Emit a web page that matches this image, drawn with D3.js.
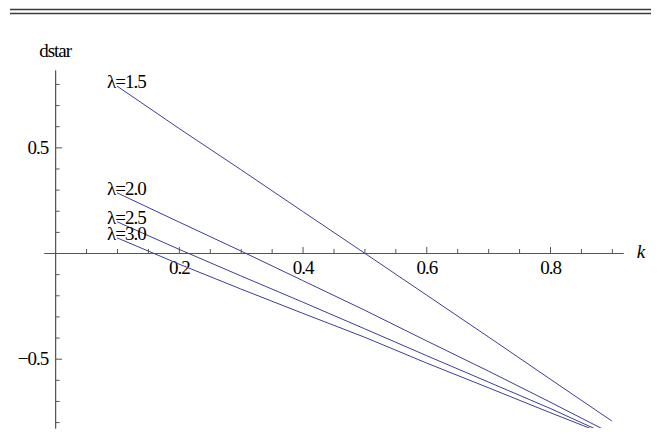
<!DOCTYPE html>
<html>
<head>
<meta charset="utf-8">
<script src="https://cdn.jsdelivr.net/npm/d3@7"></script>
<style>
  html, body { margin: 0; padding: 0; background: #fff; }
  svg text { font-family: "Liberation Serif", "Times New Roman", serif; fill: #000; }
</style>
</head>
<body>
<svg id="chart" width="660" height="445"></svg>
<script>
// ---- data ----
const kValues = [0.1, 0.2, 0.3, 0.4, 0.5, 0.6, 0.7, 0.8, 0.9];
const lambdaLabels = ["λ=1.5", "λ=2.0", "λ=2.5", "λ=3.0"];
const dstarL15 = [0.79, 0.59, 0.395, 0.197, 0.0, -0.198, -0.396, -0.596, -0.795];
const dstarL20 = [0.285, 0.147, 0.01, -0.13, -0.27, -0.415, -0.558, -0.705, -0.855];
const dstarL25 = [0.148, 0.018, -0.108, -0.232, -0.358, -0.485, -0.61, -0.735, -0.868];
const dstarL30 = [0.072, -0.052, -0.17, -0.285, -0.398, -0.52, -0.637, -0.755, -0.87];
const seriesValues = [dstarL15, dstarL20, dstarL25, dstarL30];
const xMajorTicks = [0.2, 0.4, 0.6, 0.8];
const yMajorTicks = [-0.5, 0.5];
const xLabel = "k";
const yLabel = "dstar";

// ---- layout ----
const svg = d3.select("#chart");
const x = d3.scaleLinear().domain([-0.018, 0.918]).range([44, 623]);
const y = d3.scaleLinear().domain([-0.828, 0.866]).range([428, 70]);
const axisColor = "#555";
const lineColor = "#3d3d99";
const fontSize = 19;

// top double rule
[9.5, 13.5].forEach(yy => {
  svg.append("line").attr("x1", 10).attr("x2", 651).attr("y1", yy).attr("y2", yy)
    .attr("stroke", "#3a3a3a").attr("stroke-width", 1.3);
});

// clip
svg.append("defs").append("clipPath").attr("id", "plotclip")
  .append("rect").attr("x", x.range()[0]).attr("y", y.range()[1])
  .attr("width", x.range()[1] - x.range()[0]).attr("height", y.range()[0] - y.range()[1]);

const fmt = d3.format(".1f");
const xMinor = d3.range(0.05, 0.9001, 0.05).map(v => +v.toFixed(2)).filter(v => !xMajorTicks.includes(v));
const yMinor = d3.range(-0.8, 0.8001, 0.1).map(v => +v.toFixed(1)).filter(v => v !== 0 && !yMajorTicks.includes(v));

// X axis
const gx = svg.append("g").attr("transform", `translate(0,${y(0)})`);
gx.call(d3.axisBottom(x).tickValues(xMinor).tickSizeInner(-4).tickSizeOuter(0).tickFormat(""));
gx.call(g => g.selectAll(".tick text").remove());
const gx2 = svg.append("g").attr("transform", `translate(0,${y(0)})`);
gx2.call(d3.axisBottom(x).tickValues(xMajorTicks).tickSizeInner(-6).tickSizeOuter(0).tickFormat(fmt));
[gx, gx2].forEach(g => {
  g.selectAll("path.domain").attr("stroke", axisColor).attr("stroke-width", 1);
  g.selectAll(".tick line").attr("stroke", axisColor).attr("stroke-width", 1);
});
gx2.selectAll(".tick text").attr("y", 21).attr("dy", 0)
  .attr("font-size", fontSize).attr("letter-spacing", "-1px")
  .style("font-family", '"Liberation Serif", serif').attr("fill", "#000");

// Y axis
const gy = svg.append("g").attr("transform", `translate(${x(0)},0)`);
gy.call(d3.axisLeft(y).tickValues(yMinor).tickSizeInner(-4.5).tickSizeOuter(0).tickFormat(""));
gy.call(g => g.selectAll(".tick text").remove());
const gy2 = svg.append("g").attr("transform", `translate(${x(0)},0)`);
gy2.call(d3.axisLeft(y).tickValues(yMajorTicks).tickSizeInner(-7).tickSizeOuter(0).tickFormat(fmt));
[gy, gy2].forEach(g => {
  g.selectAll("path.domain").attr("stroke", axisColor).attr("stroke-width", 1);
  g.selectAll(".tick line").attr("stroke", axisColor).attr("stroke-width", 1);
});
gy2.selectAll(".tick text").attr("x", -7).attr("dy", "0.33em")
  .attr("font-size", fontSize).attr("letter-spacing", "-1px")
  .style("font-family", '"Liberation Serif", serif').attr("fill", "#000");

// axis labels
svg.append("text").attr("x", 641).attr("y", y(0) + 5).attr("text-anchor", "middle")
  .attr("font-size", fontSize).attr("font-style", "italic").text(xLabel);
svg.append("text").attr("x", x(0)).attr("y", 57).attr("text-anchor", "middle")
  .attr("font-size", fontSize).attr("letter-spacing", "-1px").text(yLabel);

// lines
const line = d3.line().x(d => x(d[0])).y(d => y(d[1]));
const gl = svg.append("g").attr("clip-path", "url(#plotclip)");
seriesValues.forEach(vals => {
  gl.append("path").datum(kValues.map((k, i) => [k, vals[i]]))
    .attr("d", line).attr("fill", "none").attr("stroke", lineColor).attr("stroke-width", 1);
});

// series labels (overlapping as in the reference)
seriesValues.forEach((vals, i) => {
  svg.append("text").attr("x", x(kValues[0]) - 10).attr("y", y(vals[0]) + 2)
    .attr("font-size", fontSize).attr("letter-spacing", "-1px").text(lambdaLabels[i]);
});
</script>
</body>
</html>
